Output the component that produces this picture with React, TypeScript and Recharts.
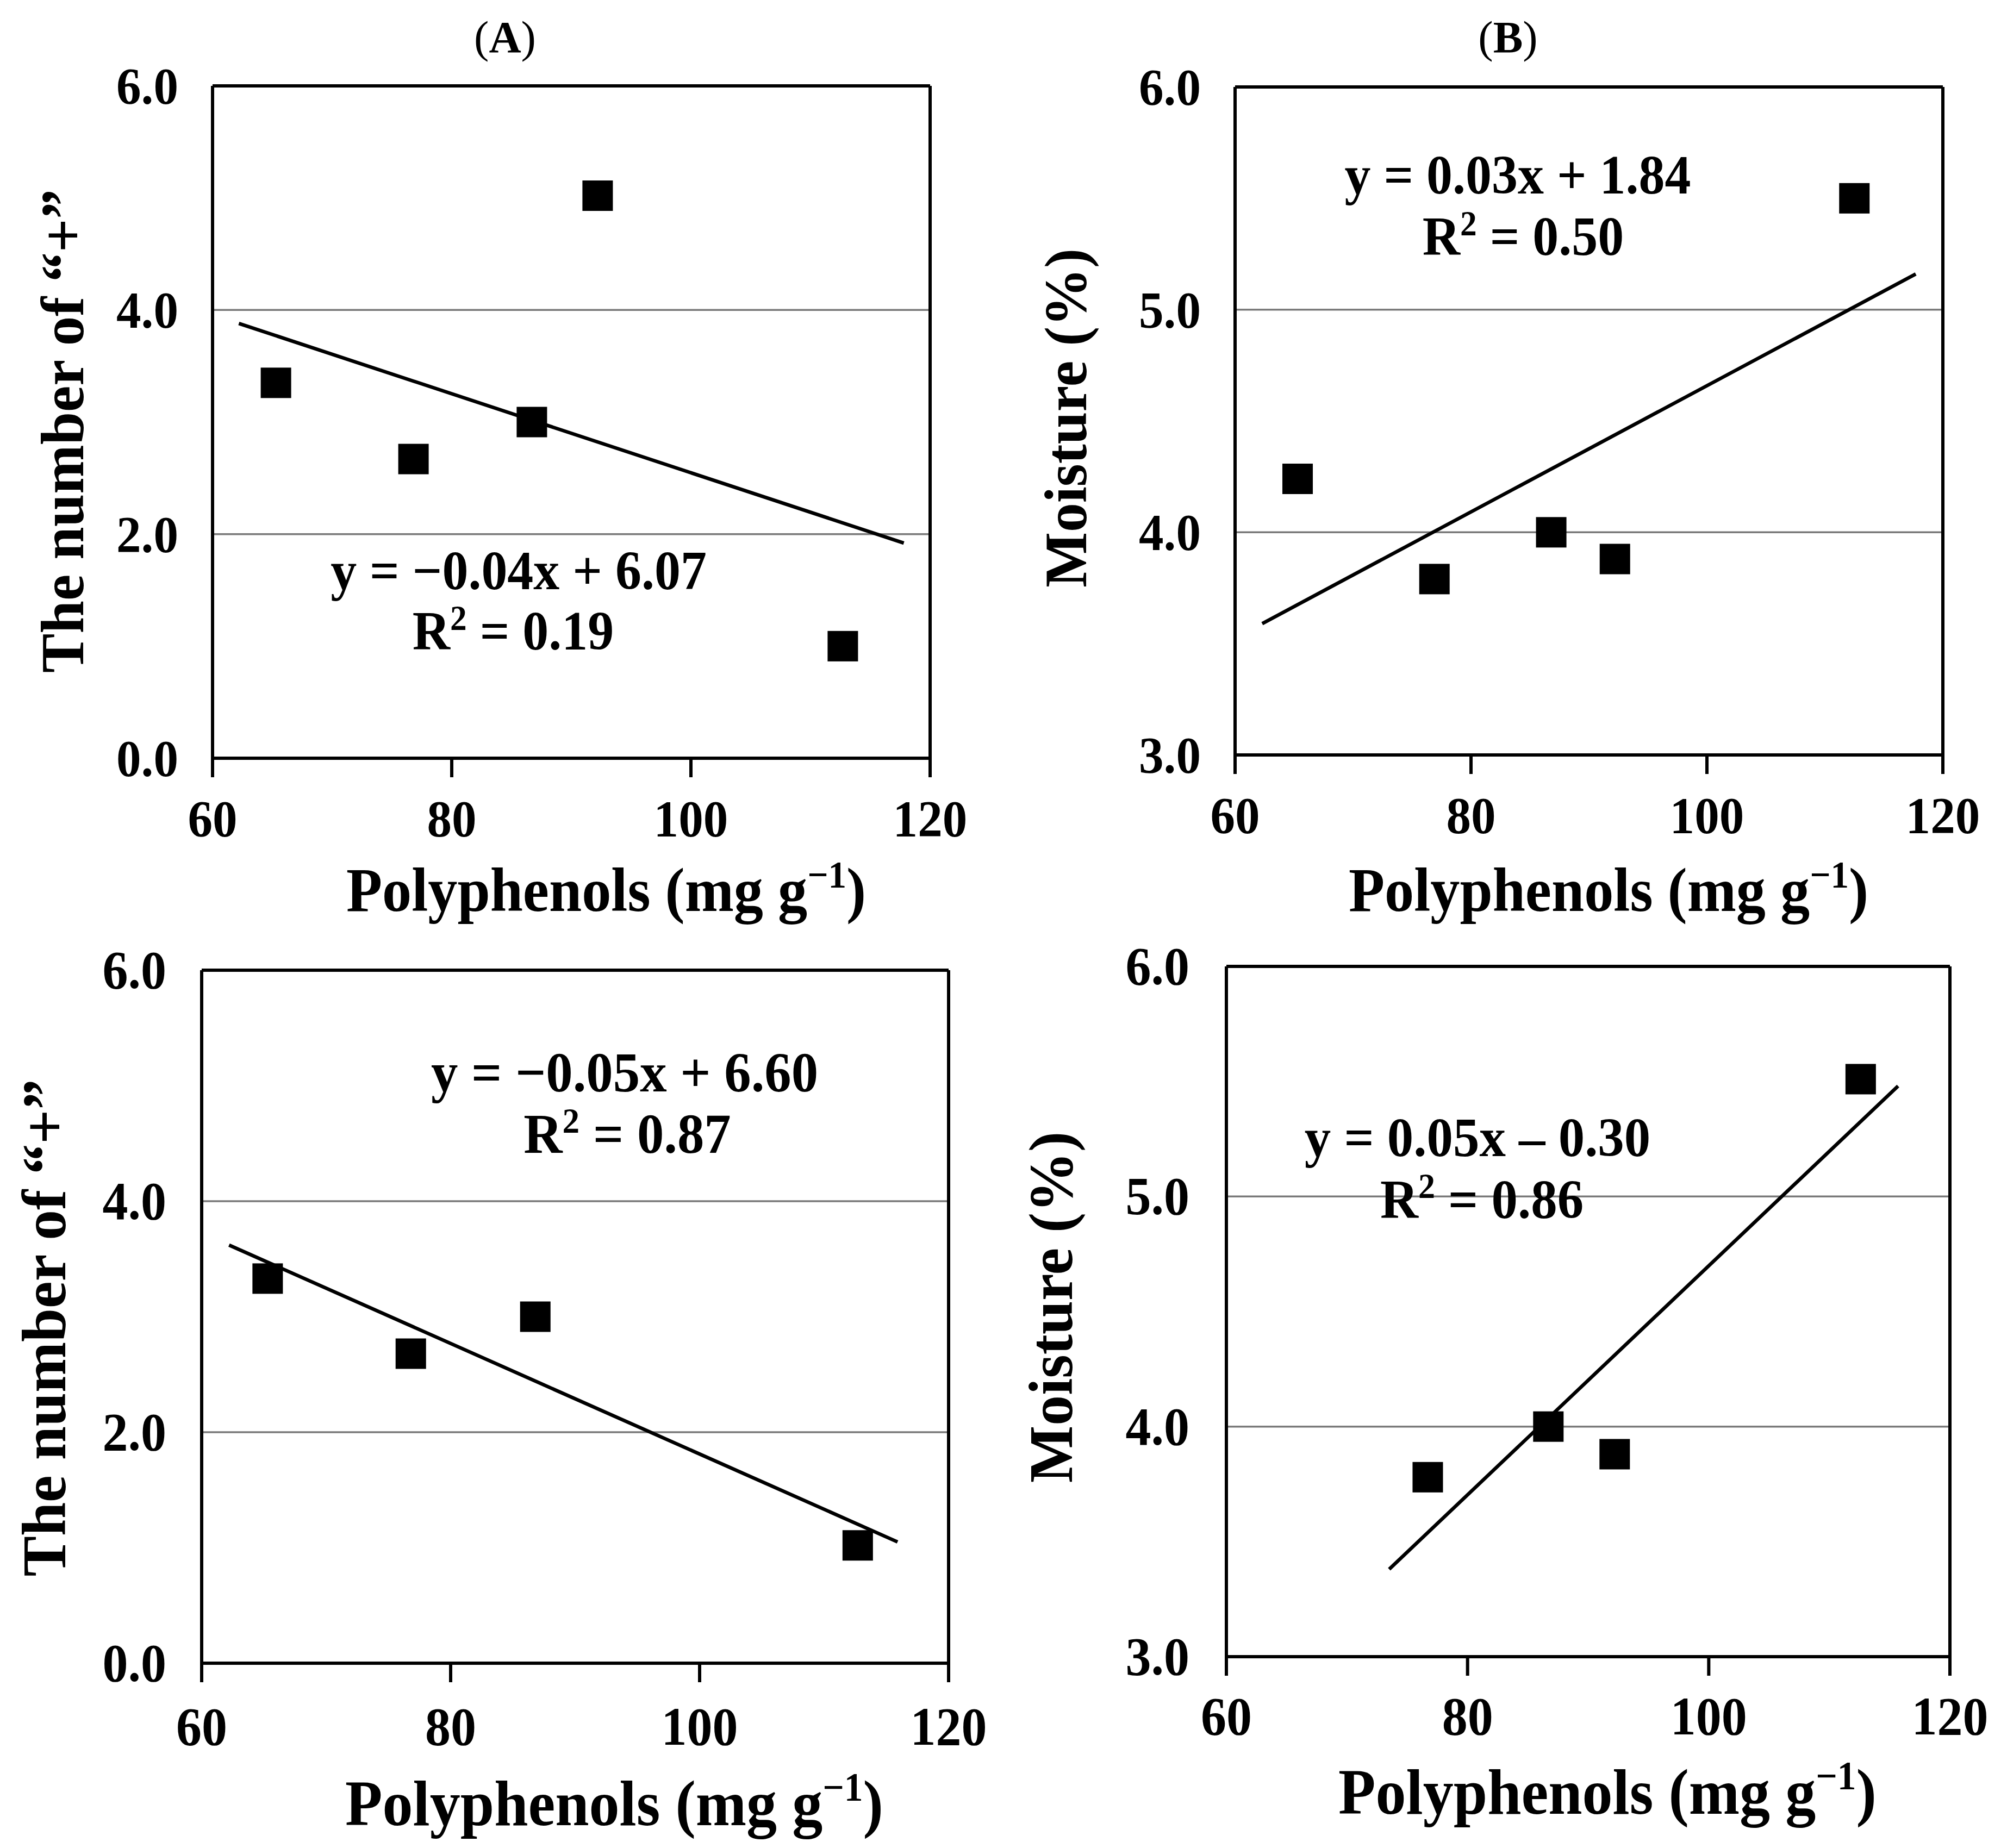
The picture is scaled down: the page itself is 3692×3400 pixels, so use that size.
import { ScatterChart, Scatter, XAxis, YAxis, CartesianGrid, ReferenceLine } from 'recharts'

// shared axis ticks
const xTicks = [60, 80, 100, 120]
const plusTicks = [0, 2, 4, 6]
const moistTicks = [3, 4, 5, 6]

// (A) number of "+" vs polyphenols
const polyA = [65.3, 76.8, 86.7, 92.2, 112.7]
const plusA = [3.35, 2.67, 3.0, 5.02, 1.0]
const fitAX = [62.2, 117.8]
const fitAY = [3.88, 1.92]
const eqA = ['y = \u22120.04x + 6.07', '0.19']

// (B) moisture vs polyphenols
const polyB = [65.3, 76.9, 86.8, 92.2, 112.5]
const moistB = [4.24, 3.79, 4.0, 3.88, 5.5]
const fitBX = [62.3, 117.7]
const fitBY = [3.59, 5.16]
const eqB = ['y = 0.03x + 1.84', '0.50']

// bottom left
const polyC = [65.3, 76.8, 86.8, 112.7]
const plusC = [3.33, 2.68, 3.0, 1.02]
const fitCX = [62.2, 115.9]
const fitCY = [3.62, 1.05]
const eqC = ['y = \u22120.05x + 6.60', '0.87']

// bottom right
const polyD = [76.7, 86.7, 92.2, 112.6]
const moistD = [3.78, 4.0, 3.88, 5.51]
const fitDX = [73.5, 115.7]
const fitDY = [3.38, 5.48]
const eqD = ['y = 0.05x \u2013 0.30', '0.86']

const FONT = "'Liberation Serif', 'Times New Roman', serif"

function SText({ x, y, size, sx = 1, anchor = 'middle', rotate = 0, weight = 'bold', children }: any) {
  return (
    <text
      transform={`translate(${x},${y}) rotate(${rotate}) scale(${sx},1)`}
      textAnchor={anchor}
      fontFamily={FONT}
      fontWeight={weight}
      fontSize={size}
      fill="#000"
    >
      {children}
    </text>
  )
}

const Square = (p: any) => <rect x={p.cx - 28} y={p.cy - 28} width={56} height={56} fill="#000" />

function XTick({ x, y, payload, gap, size }: any) {
  return (
    <SText x={x} y={y + gap} size={size} sx={0.95}>
      {String(payload.value)}
    </SText>
  )
}

function YTick({ x, y, payload, gap, size }: any) {
  return (
    <SText x={x - gap} y={y + 33} size={size} sx={0.95} anchor="end">
      {Number(payload.value).toFixed(1)}
    </SText>
  )
}

function Panel({ box, plot, xs, ys, fx, fy, yDomain, yTicks, tickSize, xGap, yGap }: any) {
  const AXW = 300
  const AXH = 200
  const margin = {
    top: plot.top - box.y,
    left: plot.left - box.x - AXW,
    right: box.x + box.w - plot.right,
    bottom: box.y + box.h - plot.bottom - AXH,
  }
  const pts = xs.map((x: number, i: number) => ({ x, y: ys[i] }))
  const axisStyle = { stroke: '#000', strokeWidth: 6 }
  return (
    <div style={{ position: 'absolute', left: box.x, top: box.y }}>
      <ScatterChart width={box.w} height={box.h} margin={margin}>
        <CartesianGrid vertical={false} stroke="#7a7a7a" strokeWidth={3.5} />
        <XAxis
          type="number"
          dataKey="x"
          domain={[60, 120]}
          ticks={xTicks}
          interval={0}
          height={AXH}
          axisLine={axisStyle}
          tickLine={axisStyle}
          tickSize={35}
          tickMargin={0}
          tick={(p: any) => <XTick {...p} gap={xGap - 35} size={tickSize} />}
        />
        <YAxis
          type="number"
          dataKey="y"
          domain={yDomain}
          ticks={yTicks}
          interval={0}
          width={AXW}
          axisLine={axisStyle}
          tickLine={false}
          tickSize={0}
          tickMargin={0}
          tick={(p: any) => <YTick {...p} gap={yGap} size={tickSize} />}
        />
        <ReferenceLine y={yDomain[1]} stroke="#000" strokeWidth={6} />
        <ReferenceLine x={120} stroke="#000" strokeWidth={6} />
        <ReferenceLine
          segment={[
            { x: fx[0], y: fy[0] },
            { x: fx[1], y: fy[1] },
          ]}
          stroke="#000"
          strokeWidth={6.5}
        />
        <Scatter data={pts} shape={Square} isAnimationActive={false} />
      </ScatterChart>
    </div>
  )
}

function XTitle({ x, y, size }: any) {
  return (
    <SText x={x} y={y} size={size} sx={0.95}>
      Polyphenols (mg g
      <tspan dy={-size * 0.38} fontSize={size * 0.62}>
        {'\u22121'}
      </tspan>
      <tspan dy={size * 0.38}>)</tspan>
    </SText>
  )
}

function Equation({ lines, x1, y1, x2, y2, size }: any) {
  return (
    <g>
      <SText x={x1} y={y1} size={size} sx={0.95}>
        {lines[0]}
      </SText>
      <SText x={x2} y={y2} size={size} sx={0.95}>
        R
        <tspan dy={-size * 0.36} fontSize={size * 0.64}>
          2
        </tspan>
        <tspan dy={size * 0.36}>{' = ' + lines[1]}</tspan>
      </SText>
    </g>
  )
}

export default function App() {
  return (
    <div style={{ position: 'absolute', left: 0, top: 0, width: 3692, height: 3400, background: '#fff' }}>
      <Panel
        box={{ x: 0, y: 0, w: 1846, h: 1720 }}
        plot={{ left: 391, top: 158, right: 1711, bottom: 1395 }}
        xs={polyA}
        ys={plusA}
        fx={fitAX}
        fy={fitAY}
        yDomain={[0, 6]}
        yTicks={plusTicks}
        tickSize={96}
        xGap={144}
        yGap={63}
      />
      <Panel
        box={{ x: 1846, y: 0, w: 1846, h: 1720 }}
        plot={{ left: 2272, top: 160, right: 3574, bottom: 1389 }}
        xs={polyB}
        ys={moistB}
        fx={fitBX}
        fy={fitBY}
        yDomain={[3, 6]}
        yTicks={moistTicks}
        tickSize={96}
        xGap={144}
        yGap={63}
      />
      <Panel
        box={{ x: 0, y: 1720, w: 1846, h: 1680 }}
        plot={{ left: 371, top: 1785, right: 1745, bottom: 3060 }}
        xs={polyC}
        ys={plusC}
        fx={fitCX}
        fy={fitCY}
        yDomain={[0, 6]}
        yTicks={plusTicks}
        tickSize={99}
        xGap={150}
        yGap={65}
      />
      <Panel
        box={{ x: 1846, y: 1720, w: 1846, h: 1680 }}
        plot={{ left: 2256, top: 1778, right: 3587, bottom: 3048 }}
        xs={polyD}
        ys={moistD}
        fx={fitDX}
        fy={fitDY}
        yDomain={[3, 6]}
        yTicks={moistTicks}
        tickSize={99}
        xGap={143}
        yGap={68}
      />
      <svg
        width={3692}
        height={3400}
        style={{ position: 'absolute', left: 0, top: 0, pointerEvents: 'none' }}
      >
        <SText x={929} y={96} size={82} weight="normal">
          (<tspan fontWeight="bold">A</tspan>)
        </SText>
        <SText x={2774} y={96} size={82} weight="normal">
          (<tspan fontWeight="bold">B</tspan>)
        </SText>

        <SText x={153} y={793} size={112} sx={0.97} rotate={-90}>
          {'The number of \u201C+\u201D'}
        </SText>
        <SText x={1998} y={769} size={110} sx={0.98} rotate={-90}>
          Moisture (%)
        </SText>
        <SText x={120} y={2443} size={114} sx={0.98} rotate={-90}>
          {'The number of \u201C+\u201D'}
        </SText>
        <SText x={1972} y={2405} size={114} sx={0.98} rotate={-90}>
          Moisture (%)
        </SText>

        <XTitle x={1115} y={1676} size={114} />
        <XTitle x={2959} y={1676} size={114} />
        <XTitle x={1130} y={3358} size={118} />
        <XTitle x={2957} y={3337} size={118} />

        <Equation lines={eqA} x1={954} y1={1084} x2={944} y2={1195} size={101} />
        <Equation lines={eqB} x1={2792} y1={356} x2={2802} y2={469} size={101} />
        <Equation lines={eqC} x1={1149} y1={2008} x2={1154} y2={2121} size={104} />
        <Equation lines={eqD} x1={2718} y1={2127} x2={2726} y2={2241} size={102} />
      </svg>
    </div>
  )
}
